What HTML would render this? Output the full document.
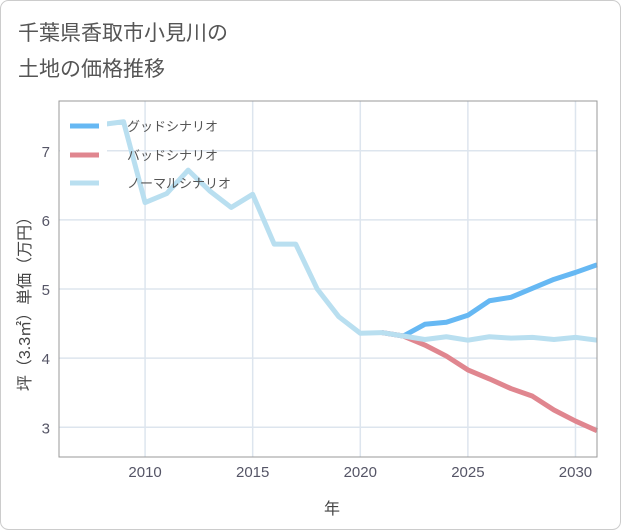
<!DOCTYPE html>
<html><head><meta charset="utf-8"><style>
body{margin:0;background:#fff;}
svg{display:block;font-family:"Liberation Sans","Noto Sans CJK JP",sans-serif;}
</style></head><body>
<svg width="621" height="530">
<rect x="0.5" y="0.5" width="620" height="529" rx="8" fill="#fff" stroke="#ccc"/>
<text x="18" y="40" font-size="21" fill="#555">千葉県香取市小見川の</text>
<text x="18" y="76" font-size="21" fill="#555">土地の価格推移</text>
<g id="grid"></g>
<g id="lines"></g>
<rect x="60" y="103" width="47" height="95" fill="#fff"/>
<g id="legend"></g>
<rect x="59" y="101" width="538" height="356" fill="none" stroke="#999"/>
<text x="332" y="514" font-size="16" fill="#444" text-anchor="middle">年</text>
<text transform="translate(30,300) rotate(-90)" font-size="16" fill="#444" text-anchor="middle">坪（3.3㎡）単価（万円）</text>
<script>
const years=[2008,2009,2010,2011,2012,2013,2014,2015,2016,2017,2018,2019,2020,2021,2022,2023,2024,2025,2026,2027,2028,2029,2030,2031];
const normal=[7.38,7.42,6.25,6.38,6.72,6.42,6.18,6.37,5.65,5.65,5.0,4.6,4.36,4.37,4.32,4.27,4.31,4.26,4.31,4.29,4.30,4.27,4.30,4.26];
const fYears=[2021,2022,2023,2024,2025,2026,2027,2028,2029,2030,2031];
const good=[4.37,4.32,4.49,4.52,4.62,4.83,4.88,5.01,5.14,5.24,5.35];
const bad=[4.37,4.32,4.19,4.03,3.83,3.70,3.56,3.45,3.25,3.09,2.95];
const xTicks=[2010,2015,2020,2025,2030];
const yTicks=[3,4,5,6,7];
const X0=59,X1=597,Y0=457,Y1=101,xmin=2006,xmax=2031,ymin=2.57,ymax=7.72;
const sx=v=>X0+(v-xmin)/(xmax-xmin)*(X1-X0);
const sy=v=>Y0-(v-ymin)/(ymax-ymin)*(Y0-Y1);
const NS="http://www.w3.org/2000/svg";
function mk(t,a,p){const e=document.createElementNS(NS,t);for(const k in a)e.setAttribute(k,a[k]);p.appendChild(e);return e;}
const grid=document.getElementById('grid');
xTicks.forEach(t=>{
 const l=mk('line',{x1:sx(t),x2:sx(t),y1:Y1,y2:Y0,stroke:'#dde5ee','stroke-width':1.5},grid);
 
 
 const tx=mk('text',{x:sx(t),y:477,'font-size':15,fill:'#556','text-anchor':'middle'},grid);
 tx.textContent=t;
 
 
});
yTicks.forEach(t=>{
 const l=mk('line',{x1:X0,x2:X1,y1:sy(t),y2:sy(t),stroke:'#dde5ee','stroke-width':1.5},grid);
 
 
 const tx=mk('text',{x:50,y:sy(t)+6,'font-size':15,fill:'#556','text-anchor':'end'},grid);
 tx.textContent=t;
 
 
});
const lines=document.getElementById('lines');
function series(xs,ys,c,name){
 const p=mk('polyline',{points:xs.map((x,i)=>sx(x)+','+sy(ys[i])).join(' '),fill:'none',stroke:c,'stroke-width':5,'stroke-linejoin':'round'},lines);
 
 
}
series(fYears,good,'#66b8f3','good-scenario-line');
series(fYears,bad,'#e0868f','bad-scenario-line');
series(years,normal,'#b9dff0','normal-scenario-line');
const lg=document.getElementById('legend');
[['グッドシナリオ','#66b8f3',126],['バッドシナリオ','#e0868f',155],['ノーマルシナリオ','#b9dff0',183]].forEach(([t,c,y])=>{
 const s=mk('line',{x1:70,x2:99,y1:y,y2:y,stroke:c,'stroke-width':5},lg);
 
 
 const tx=mk('text',{x:127,y:y+5,'font-size':13,fill:'#555'},lg);
 tx.textContent=t;
 
 
});
</script>
</svg>
</body></html>
